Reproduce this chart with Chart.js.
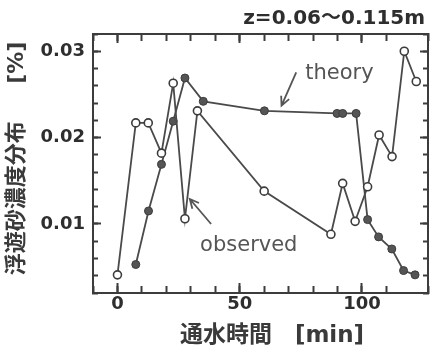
<!DOCTYPE html>
<html>
<head>
<meta charset="utf-8">
<script src="https://cdn.jsdelivr.net/npm/chart.js@4/dist/chart.umd.min.js"></script>
<style>
	html, body { margin: 0; padding: 0; background: #fff; }
	#wrap { width: 439px; height: 353px; }
</style>
</head>
<body>
<div id="wrap"><canvas id="chart" width="439" height="353"></canvas></div>
<script>
// 通水時間 [min] と浮遊砂濃度 [%]
const timeObserved = [0, 7.5, 12.6, 18, 22.8, 27.6, 32.7, 60, 87.3, 92.1, 97.2, 102.3, 107, 112.3, 117.3, 122.2];
const observedConc = [0.0041, 0.0217, 0.0217, 0.0182, 0.0263, 0.0106, 0.0231, 0.0138, 0.0088, 0.0147, 0.0103, 0.0143, 0.0203, 0.0178, 0.0300, 0.0265];

const timeTheory = [7.5, 12.7, 18, 22.8, 27.6, 35.1, 60.1, 89.8, 92.1, 97.6, 102.3, 106.8, 112.2, 117, 121.7];
const theoryConc = [0.0053, 0.0115, 0.0169, 0.0219, 0.0269, 0.0242, 0.0231, 0.0228, 0.0228, 0.0228, 0.0105, 0.0085, 0.0071, 0.0046, 0.0041];

const xLabelTicks = [0, 50, 100];
const yLabelTicks = [0.01, 0.02, 0.03];

// annotations (data units)
const noteLabels = ['theory', 'observed'];
const noteTextAt = [[90.8, 0.0268], [53.7, 0.0069]];
const noteArrowFrom = [[73.1, 0.02756], [38.3, 0.00999]];
const noteArrowTo = [[67.1, 0.0237], [29.6, 0.01289]];

const INK = '#3c3c3c';
const TEXT = '#2e2e2e';
const LATIN = "'DejaVu Sans', 'Noto Sans CJK JP', sans-serif";
const X_RANGE = { min: -10, max: 127 };
const Y_RANGE = { min: 0.002, max: 0.032 };

function toPoints(xs, ys) {
	return xs.map((x, i) => ({ x: x, y: ys[i] }));
}

const isXMajor = (v) => xLabelTicks.some(t => Math.abs(t - v) < 1e-6);
const isYMajor = (v) => yLabelTicks.some(t => Math.abs(t - v) < 1e-7);

const notesPlugin = {
	id: 'notes',
	afterDatasetsDraw(chart) {
		const ctx = chart.ctx;
		const sx = chart.scales.x;
		const sy = chart.scales.y;
		ctx.save();
		ctx.fillStyle = '#555';
		ctx.strokeStyle = '#555';
		ctx.lineWidth = 1.8;
		ctx.font = "21px " + LATIN;
		ctx.textAlign = 'center';
		ctx.textBaseline = 'alphabetic';
		noteLabels.forEach((label, i) => {
			ctx.fillText(label, sx.getPixelForValue(noteTextAt[i][0]), sy.getPixelForValue(noteTextAt[i][1]));
			const x1 = sx.getPixelForValue(noteArrowFrom[i][0]);
			const y1 = sy.getPixelForValue(noteArrowFrom[i][1]);
			const x2 = sx.getPixelForValue(noteArrowTo[i][0]);
			const y2 = sy.getPixelForValue(noteArrowTo[i][1]);
			const ang = Math.atan2(y2 - y1, x2 - x1);
			ctx.beginPath();
			ctx.moveTo(x1, y1);
			ctx.lineTo(x2, y2);
			ctx.moveTo(x2 - 10 * Math.cos(ang - 0.45), y2 - 10 * Math.sin(ang - 0.45));
			ctx.lineTo(x2, y2);
			ctx.lineTo(x2 - 10 * Math.cos(ang + 0.45), y2 - 10 * Math.sin(ang + 0.45));
			ctx.stroke();
		});
		ctx.restore();
	}
};

// ticks point inwards (negative length), nothing drawn over the plot.
// majorOnly: hide the tick mark unless it sits on a labelled value
function axisGrid(len, majorOnly) {
	return {
		drawOnChartArea: false,
		drawTicks: true,
		tickLength: -len,
		tickColor: majorOnly ? (c) => (majorOnly(c.tick.value) ? INK : 'rgba(0,0,0,0)') : INK,
		tickWidth: 2
	};
}

const axisBorder = { display: true, color: INK, width: 2 };

// extra axis that only draws tick marks (minor ticks, mirrored frame sides)
function tickAxis(axis, position, range, step, len, majorOnly, weight, size) {
	return {
		type: 'linear',
		axis: axis,
		position: position,
		min: range.min,
		max: range.max,
		weight: weight,
		grid: axisGrid(len, majorOnly),
		border: axisBorder,
		ticks: { stepSize: step, display: false, autoSkip: false },
		afterFit: (s) => {
			if (axis === 'x') s.height = size; else s.width = size;
		}
	};
}

const ctx = document.getElementById('chart').getContext('2d');
const chart = new Chart(ctx, {
	type: 'scatter',
	data: {
		datasets: [
			{
				label: 'observed',
				data: toPoints(timeObserved, observedConc),
				showLine: true,
				borderColor: '#4a4a4a',
				borderWidth: 1.8,
				pointRadius: 4,
				pointBorderWidth: 1.6,
				pointBackgroundColor: '#fff',
				pointBorderColor: INK
			},
			{
				label: 'theory',
				data: toPoints(timeTheory, theoryConc),
				showLine: true,
				borderColor: '#4a4a4a',
				borderWidth: 1.8,
				pointRadius: 4,
				pointBorderWidth: 1,
				pointBackgroundColor: '#555',
				pointBorderColor: INK
			}
		]
	},
	options: {
		responsive: false,
		animation: false,
		events: [],
		layout: { padding: 0 },
		plugins: {
			legend: { display: false },
			tooltip: { enabled: false },
			title: {
				display: true,
				text: 'z=0.06〜0.115m  ',
				align: 'end',
				color: TEXT,
				font: { family: LATIN, size: 20, weight: 'bold' },
				padding: { top: 7, bottom: 3 }
			}
		},
		scales: {
			x: {
				type: 'linear',
				position: 'bottom',
				min: X_RANGE.min,
				max: X_RANGE.max,
				weight: 1,
				grid: axisGrid(10, isXMajor),
				border: axisBorder,
				ticks: {
					stepSize: 10,
					padding: 11,
					color: TEXT,
					font: { family: LATIN, size: 18, weight: 'bold' },
					maxRotation: 0,
					autoSkip: false,
					callback: (v) => isXMajor(v) ? String(v) : ''
				},
				title: {
					display: true,
					text: '　通水時間　[min]',
					color: '#3a3a3a',
					font: { family: LATIN, size: 23, weight: 'bold' },
					padding: { top: 0, bottom: 3 }
				},
				afterFit: (s) => { s.height = 60; }
			},
			xMinor: tickAxis('x', 'bottom', X_RANGE, 10, 7, null, 0, 0),
			xTop: tickAxis('x', 'top', X_RANGE, 10, 9, isXMajor, 1, 0),
			xTopMinor: tickAxis('x', 'top', X_RANGE, 10, 7, null, 0, 0),
			y: {
				type: 'linear',
				position: 'left',
				min: Y_RANGE.min,
				max: Y_RANGE.max,
				weight: 1,
				grid: axisGrid(8, isYMajor),
				border: axisBorder,
				ticks: {
					stepSize: 0.002,
					padding: 16,
					color: TEXT,
					font: { family: LATIN, size: 18, weight: 'bold' },
					autoSkip: false,
					callback: (v) => isYMajor(v) ? v.toFixed(2) : ''
				},
				title: {
					display: true,
					text: '浮遊砂濃度分布　  [%] ',
					align: 'end',
					color: '#3a3a3a',
					font: { family: LATIN, size: 22, weight: 'bold' },
					padding: { top: 4, bottom: 0 }
				},
				afterFit: (s) => { s.width = 93; }
			},
			yMinor: tickAxis('y', 'left', Y_RANGE, 0.002, 5, null, 0, 0),
			yRight: tickAxis('y', 'right', Y_RANGE, 0.002, 8, isYMajor, 1, 6),
			yRightMinor: tickAxis('y', 'right', Y_RANGE, 0.002, 5, null, 0, 0)
		}
	},
	plugins: [notesPlugin]
});
</script>
</body>
</html>
